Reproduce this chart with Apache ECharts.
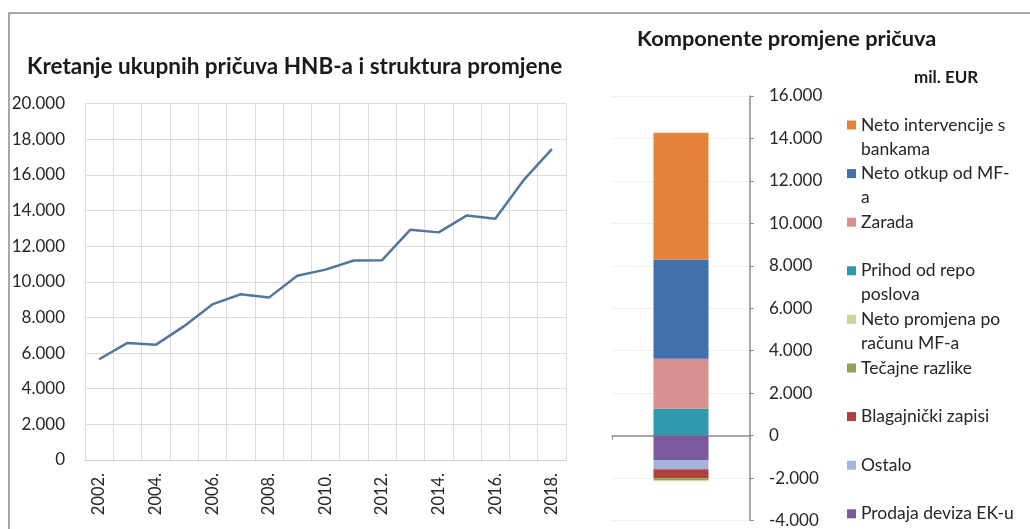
<!DOCTYPE html>
<html>
<head>
<meta charset="utf-8">
<script src="https://cdn.jsdelivr.net/npm/echarts@6/dist/echarts.min.js"></script>
<style>
  html, body { margin: 0; padding: 0; background: #fff; }
  #chart { width: 1030px; height: 529px; }
</style>
</head>
<body>
<div id="chart"></div>
<script>
// left chart: total reserves by year (mil. EUR)
const years = ['2002.', '2003.', '2004.', '2005.', '2006.', '2007.', '2008.', '2009.', '2010.',
  '2011.', '2012.', '2013.', '2014.', '2015.', '2016.', '2017.', '2018.'];
const reserves = [5650, 6570, 6460, 7510, 8730, 9300, 9110, 10340, 10680,
  11190, 11210, 12920, 12770, 13720, 13530, 15700, 17440];

// right chart: components of the change
const components = ['Neto intervencije s bankama', 'Neto otkup od MF-a', 'Zarada',
  'Prihod od repo poslova', 'Neto promjena po računu MF-a', 'Tečajne razlike',
  'Blagajnički zapisi', 'Ostalo', 'Prodaja deviza EK-u'];
const componentLabels = ['Neto intervencije s\nbankama', 'Neto otkup od MF-\na', 'Zarada',
  'Prihod od repo\nposlova', 'Neto promjena po\nračunu MF-a', 'Tečajne razlike',
  'Blagajnički zapisi', 'Ostalo', 'Prodaja deviza EK-u'];
const componentValues = [5970, 4680, 2360, 1260, -50, -90, -420, -420, -1170];
const componentColors = ['#e4813b', '#4170ad', '#d8918f', '#3199ad', '#c3d69b',
  '#8ca454', '#b0403e', '#a3b4de', '#7a5a9c'];
// order in which the pieces are stacked (positives up from 0, negatives down from 0)
const stackOrder = [3, 2, 1, 0, 8, 7, 6, 5, 4];

const FONT = 'Lato, "Liberation Sans", sans-serif';

function fmt(v) {
  const s = Math.abs(v).toString().replace(/\B(?=(\d{3})+(?!\d))/g, '.');
  return (v < 0 ? '-' : '') + s;
}

const chart = echarts.init(document.getElementById('chart'));

// one legend per item so the rows keep an even step like the original
const lineH = 24;
const legends = components.map(function (name, i) {
  const twoLine = componentLabels[i].indexOf('\n') >= 0;
  const yc = 125 + 48.6 * i;
  // two-line labels get an empty first line so the icon sits on the first text line
  const label = twoLine ? '\n' + componentLabels[i] : componentLabels[i];
  return {
    data: [name],
    orient: 'vertical',
    left: 847,
    top: yc - (twoLine ? 1.5 * lineH : 0.5 * lineH),
    padding: 0,
    itemWidth: 9,
    itemHeight: 9,
    itemGap: 0,
    icon: 'rect',
    selectedMode: false,
    formatter: function () { return label; },
    textStyle: {
      fontFamily: FONT,
      fontSize: 17.5,
      color: '#262626',
      lineHeight: lineH
    }
  };
});

const barSeries = stackOrder.map(function (i) {
  return {
    name: components[i],
    type: 'bar',
    xAxisIndex: 1,
    yAxisIndex: 1,
    stack: 'comp',
    barWidth: 55,
    itemStyle: { color: componentColors[i] },
    data: [componentValues[i]]
  };
});

const option = {
  animation: false,
  textStyle: { fontFamily: FONT },
  graphic: [{
    type: 'rect',
    shape: { x: 9, y: 13, width: 1040, height: 540 },
    style: { fill: 'none', stroke: '#8c8c8c', lineWidth: 1.5 },
    silent: true
  }],
  title: [
    {
      text: 'Kretanje ukupnih pričuva HNB-a i struktura promjene',
      left: 27, top: 55, padding: 0,
      textStyle: { fontFamily: FONT, fontSize: 22.5, fontWeight: 'bold', color: '#1a1a1a' }
    },
    {
      text: 'Komponente promjene pričuva',
      left: 637, top: 28, padding: 0,
      textStyle: { fontFamily: FONT, fontSize: 21.8, fontWeight: 'bold', color: '#1a1a1a' }
    },
    {
      text: 'mil. EUR',
      left: 914, top: 69, padding: 0,
      textStyle: { fontFamily: FONT, fontSize: 17, fontWeight: 'bold', color: '#1a1a1a' }
    }
  ],
  legend: legends,
  grid: [
    { left: 85, top: 103.5, width: 481, height: 356.5 },
    { left: 612, top: 96, width: 138, height: 427 }
  ],
  xAxis: [
    {
      type: 'category',
      gridIndex: 0,
      data: years,
      boundaryGap: true,
      axisLine: { lineStyle: { color: '#d0d0d0' } },
      axisTick: { show: false },
      splitLine: { show: true, interval: 0, lineStyle: { color: '#dcdcdc' } },
      axisLabel: { rotate: 90, interval: 1, margin: 13, fontSize: 16.5, color: '#262626', fontFamily: FONT }
    },
    {
      type: 'category',
      gridIndex: 1,
      data: [''],
      axisLine: { onZero: true, lineStyle: { color: '#8c8c8c', width: 1.5 } },
      axisTick: { show: true, length: 4, lineStyle: { color: '#8c8c8c' } },
      axisLabel: { show: false }
    }
  ],
  yAxis: [
    {
      type: 'value',
      gridIndex: 0,
      min: 0, max: 20000, interval: 2000,
      axisLine: { show: false },
      axisTick: { show: false },
      splitLine: { lineStyle: { color: '#dcdcdc' } },
      axisLabel: { margin: 20, fontSize: 17, color: '#262626', fontFamily: FONT, formatter: fmt }
    },
    {
      type: 'value',
      gridIndex: 1,
      position: 'right',
      min: -4000, max: 16000, interval: 2000,
      axisLine: { show: true, lineStyle: { color: '#8c8c8c', width: 1.5 } },
      axisTick: { show: true, length: 4, lineStyle: { color: '#8c8c8c' } },
      splitLine: { lineStyle: { color: '#f0f0f0' } },
      axisLabel: { margin: 19, fontSize: 17, color: '#262626', fontFamily: FONT, formatter: fmt }
    }
  ],
  series: [{
    name: 'Pričuve',
    type: 'line',
    xAxisIndex: 0,
    yAxisIndex: 0,
    showSymbol: false,
    lineStyle: { width: 2.5, color: '#52779e' },
    data: reserves
  }].concat(barSeries)
};

chart.setOption(option);
</script>
</body>
</html>
